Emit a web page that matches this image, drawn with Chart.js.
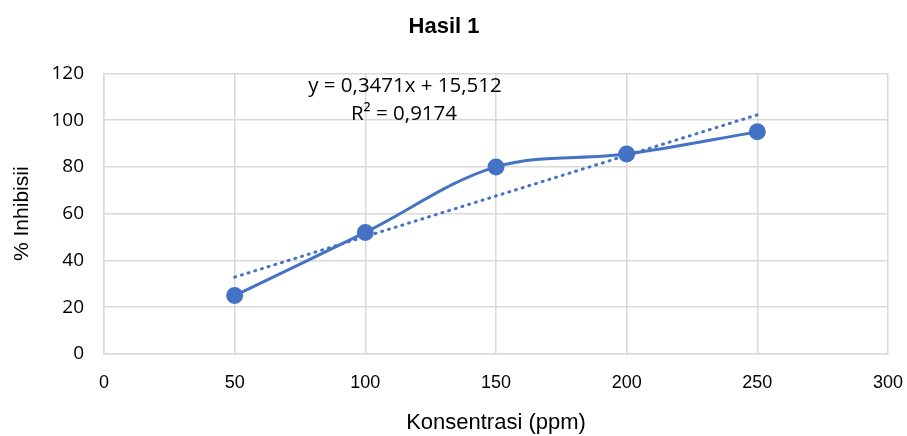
<!DOCTYPE html>
<html>
<head>
<meta charset="utf-8">
<script src="https://cdn.jsdelivr.net/npm/chart.js@4"></script>
<style>
  body { margin: 0; background: #fff; }
  #wrap { width: 907px; height: 436px; }
</style>
</head>
<body>
<div id="wrap"><canvas id="myChart"></canvas></div>
<script>
  const konsentrasi = [50, 100, 150, 200, 250];
  const inhibisi = [25, 52, 80, 85.5, 95];
  const slope = 0.3471;
  const intercept = 15.512;
  const trendX = [50, 250];
  const eqLines = ['y = 0,3471x + 15,512', 'R\u00b2 = 0,9174'];

  const blue = '#4472C4';
  const sans = '"Liberation Sans", Arial, sans-serif';
  const calib = '"Open Sans", "Noto Sans", sans-serif';

  const data = {
    datasets: [{
      label: 'Hasil 1',
      data: konsentrasi.map((x, i) => ({ x: x, y: inhibisi[i] })),
      borderColor: blue,
      backgroundColor: blue,
      borderWidth: 3,
      pointRadius: 7,
      pointHoverRadius: 7,
      tension: 0.35,
      showLine: true,
      order: 1
    }, {
      label: 'Trend',
      data: trendX.map(x => ({ x: x, y: slope * x + intercept })),
      borderColor: blue,
      borderWidth: 3,
      borderDash: [1, 6],
      borderCapStyle: 'round',
      pointRadius: 0,
      showLine: true,
      order: 2
    }]
  };

  // trendline equation label, like Excel puts it
  const eqLabel = {
    id: 'eqLabel',
    afterDraw(chart) {
      const ctx = chart.ctx;
      ctx.save();
      ctx.font = '20.5px ' + calib;
      ctx.fillStyle = '#000';
      ctx.textAlign = 'center';
      ctx.textBaseline = 'middle';
      ctx.fillText(eqLines[0], 405, 86);
      ctx.fillText(eqLines[1], 404, 114);
      ctx.restore();
    }
  };

  const config = {
    type: 'scatter',
    data,
    options: {
      responsive: true,
      maintainAspectRatio: false,
      animation: false,
      layout: { padding: { left: 0, right: 19, top: 0, bottom: 0 } },
      plugins: {
        legend: { display: false },
        tooltip: { enabled: false },
        title: {
          display: true,
          text: 'Hasil 1',
          color: '#000',
          font: { family: sans, size: 22, weight: 'bold' },
          padding: { top: 14, bottom: 33 }
        }
      },
      scales: {
        x: {
          min: 0, max: 300,
          ticks: { stepSize: 50, color: '#000', padding: 18,
            font: { family: sans, size: 18 } },
          grid: { color: '#d9d9d9', lineWidth: 1.5, drawTicks: false },
          border: { color: '#d9d9d9', width: 1.5 },
          title: { display: true, text: 'Konsentrasi (ppm)', color: '#000',
            font: { family: sans, size: 22 }, padding: { top: 10, bottom: 0 } },
          afterFit(scale) {
            scale.height = 82;
            scale.paddingLeft = 0;
            scale.paddingRight = 0;
          }
        },
        y: {
          min: 0, max: 120,
          ticks: { stepSize: 20, color: '#000', padding: 20,
            font: { family: calib, size: 19 } },
          grid: { color: '#d9d9d9', lineWidth: 1.5, drawTicks: false },
          border: { color: '#d9d9d9', width: 1.5 },
          title: { display: true, text: '% Inhibisii', color: '#000',
            font: { family: sans, size: 21 }, padding: { top: 10, bottom: 4 } },
          afterFit(scale) { scale.width = 104; }
        }
      }
    },
    plugins: [eqLabel]
  };

  var myChart = new Chart(document.getElementById('myChart'), config);
</script>
</body>
</html>
